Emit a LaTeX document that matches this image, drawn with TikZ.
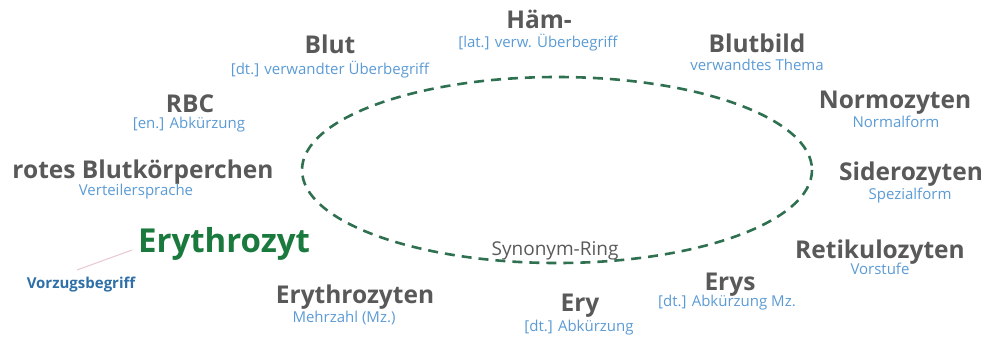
\documentclass[tikz,border=0pt]{standalone}
\usepackage{fontspec}
\setmainfont{Open Sans}
\definecolor{termgray}{HTML}{595959}
\definecolor{subblue}{HTML}{5B9BD5}
\definecolor{prefgreen}{HTML}{1A7A3E}
\definecolor{ringgreen}{HTML}{2E7050}
\definecolor{vzblue}{HTML}{2E6FA8}
\definecolor{vzline}{HTML}{E8C8D0}
\begin{document}
\begin{tikzpicture}[x=1pt,y=-1pt,
  term/.style={font=\fontsize{24.5}{24.5}\selectfont\bfseries, text=termgray, inner sep=0pt, anchor=base},
  sub/.style={font=\fontsize{15}{15}\selectfont, text=subblue, inner sep=0pt, anchor=base},
  ring/.style={draw=ringgreen, line width=2.6pt, dash pattern=on 10pt off 7pt},
]
\useasboundingbox (0,0) rectangle (990,338);
% synonym ring
\draw[ring] (557,170) ellipse [x radius=255, y radius=93];
\node[font=\fontsize{19}{19}\selectfont, text=termgray, inner sep=0pt, anchor=base] (syn) at (555,255) {Synonym-Ring};
% terms
\node[term] (blut) at (330,53) {Blut};
\node[sub] (blutS) at (330,74) {[dt.] verwandter Überbegriff};
\node[term] (haem) at (539,28) {Häm-};
\node[sub] (haemS) at (538,47) {[lat.] verw. Überbegriff};
\node[term] (bild) at (757,52) {Blutbild};
\node[sub] (bildS) at (757,70) {verwandtes Thema};
\node[term] (rbc) at (190,112) {RBC};
\node[sub] (rbcS) at (189,128) {[en.] Abkürzung};
\node[term] (normo) at (895,108) {Normozyten};
\node[sub] (normoS) at (896,127) {Normalform};
\node[term] (rotes) at (143,178) {rotes Blutkörperchen};
\node[sub] (rotesS) at (136,195) {Verteilersprache};
\node[term] (sidero) at (911,180) {Siderozyten};
\node[sub] (sideroS) at (910,199) {Spezialform};
\node[term, font=\fontsize{33}{33}\selectfont\bfseries, text=prefgreen] (pref) at (224,252) {Erythrozyt};
\node[font=\fontsize{15}{15}\selectfont\bfseries, text=vzblue, inner sep=0pt, anchor=base] (vz) at (81,288) {Vorzugsbegriff};
\node[term] (retik) at (880,258) {Retikulozyten};
\node[sub] (retikS) at (880,274) {Vorstufe};
\node[term] (erys) at (730,290) {Erys};
\node[sub] (erysS) at (727,306) {[dt.] Abkürzung Mz.};
\node[term] (erythen) at (355,303) {Erythrozyten};
\node[sub] (erythenS) at (344,322) {Mehrzahl (Mz.)};
\node[term] (ery) at (580,311) {Ery};
\node[sub] (eryS) at (579,331) {[dt.] Abkürzung};
% pointer
\coordinate (vzend) at (77,270);
\coordinate (prefend) at (132,250);
\draw[vzline, line width=1pt] (vzend) -- (prefend);
\end{tikzpicture}
\end{document}
